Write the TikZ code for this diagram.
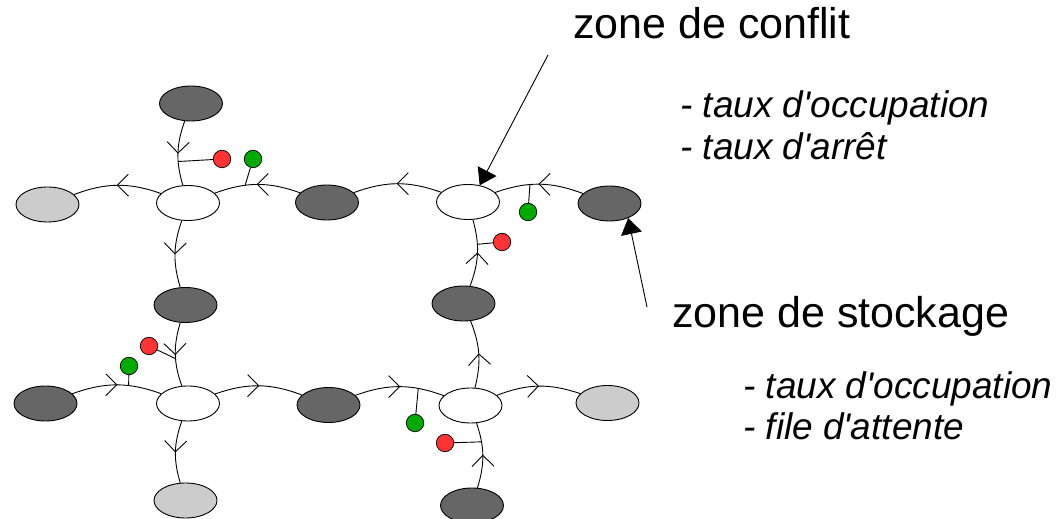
\documentclass[tikz,border=0pt]{standalone}
\usepackage{fontspec}
\newfontfamily\arial{Liberation Sans}
\usepackage{tikz}
\usetikzlibrary{shapes.geometric, arrows.meta, decorations.markings}
\definecolor{darkzone}{HTML}{666666}
\definecolor{lightzone}{HTML}{CCCCCC}
\definecolor{redlight}{HTML}{FF3333}
\definecolor{greenlight}{HTML}{00AA00}
\tikzstyle{conflict} = [ellipse, minimum width=63pt, minimum height=35pt, inner sep=0pt, draw=black, fill=white, line width=0.9pt]
\tikzstyle{stock} = [conflict, fill=darkzone]
\tikzstyle{exitzone} = [conflict, fill=lightzone]
\tikzstyle{feurouge} = [circle, minimum size=17.5pt, inner sep=0pt, draw=black, line width=0.7pt, fill=redlight]
\tikzstyle{feuvert} = [feurouge, fill=greenlight]
\tikzstyle{flow} = [line width=0.9pt, postaction={decorate}, decoration={markings, mark=at position 0.5 with {\draw (-11pt,11pt) -- (0pt,0pt) -- (-11pt,-11pt);}}]
\tikzstyle{stem} = [line width=0.9pt]
\tikzstyle{pointer} = [line width=0.9pt, -{Triangle[length=16pt, width=21pt]}]
\tikzstyle{titre} = [inner sep=0pt, anchor=base west, font=\arial\fontsize{43}{48}\selectfont]
\tikzstyle{liste} = [inner sep=0pt, anchor=base west, font=\arial\itshape\fontsize{37}{42}\selectfont]

\begin{document}
\begin{tikzpicture}[x=1pt, y=1pt]
   \useasboundingbox (0,0) rectangle (1057,519);

   \node (conf1) [conflict] at (188,316) {};
   \node (conf2) [conflict] at (468,317) {};
   \node (conf3) [conflict] at (188,115.5) {};
   \node (conf4) [conflict] at (470.5,113.5) {};

   \node (stockN1) [stock] at (191,415.5) {};
   \node (sortieW1) [exitzone] at (47.5,314.5) {};
   \node (stock12) [stock] at (327,316.5) {};
   \node (stockE2) [stock] at (609.5,315.5) {};
   \node (stock13) [stock] at (185.5,214) {};
   \node (stock24) [stock] at (463.5,215.5) {};
   \node (stockW3) [stock] at (45.5,115.5) {};
   \node (stock34) [stock] at (328.5,114) {};
   \node (sortieE4) [exitzone] at (607.5,116) {};
   \node (sortieS3) [exitzone] at (185.5,18.5) {};
   \node (stockS4) [stock] at (472,13.5) {};

   \draw [flow] (conf1) to[bend right=20] (sortieW1);
   \draw [flow] (stock12) to[bend right=20] coordinate[pos=0.65] (v1) (conf1);
   \draw [flow] (conf2) to[bend right=20] (stock12);
   \draw [flow] (stockE2) to[bend right=20] coordinate[pos=0.61] (v2) (conf2);

   \draw [flow] (stockN1) to[bend right=18] coordinate[pos=0.64] (r1) (conf1);
   \draw [flow] (conf1) to[bend right=18] (stock13);
   \draw [flow] (stock13) to[bend right=18] coordinate[pos=0.57] (r3) (conf3);
   \draw [flow] (conf3) to[bend right=18] (sortieS3);

   \draw [flow] (stock24) to[bend right=18] coordinate[pos=0.64] (r2) (conf2);
   \draw [flow] (conf4) to[bend right=18] (stock24);
   \draw [flow] (stockS4) to[bend right=18] coordinate[pos=0.72] (r4) (conf4);

   \draw [flow] (stockW3) to[bend left=20] coordinate[pos=0.64] (v3) (conf3);
   \draw [flow] (conf3) to[bend left=20] (stock34);
   \draw [flow] (stock34) to[bend left=20] coordinate[pos=0.72] (v4) (conf4);
   \draw [flow] (conf4) to[bend left=20] (sortieE4);

   \node (feuR1) [feurouge] at (222,360) {};
   \node (feuV1) [feuvert] at (253,360) {};
   \node (feuV2) [feuvert] at (528,307) {};
   \node (feuR2) [feurouge] at (502,277) {};
   \node (feuR3) [feurouge] at (149,173) {};
   \node (feuV3) [feuvert] at (129,153) {};
   \node (feuV4) [feuvert] at (415,96) {};
   \node (feuR4) [feurouge] at (445,76) {};

   \draw [stem] (r1) -- (feuR1);
   \draw [stem] (v1) -- (feuV1);
   \draw [stem] (v2) -- (feuV2);
   \draw [stem] (r2) -- (feuR2);
   \draw [stem] (r3) -- (feuR3);
   \draw [stem] (v3) -- (feuV3);
   \draw [stem] (v4) -- (feuV4);
   \draw [stem] (r4) -- (feuR4);

   \node (conflit) [titre] at (573,480) {zone de conflit};
   \node (occ1) [liste] at (680,401) {- taux d'occupation};
   \node (arret) [liste] at (680,359) {- taux d'arrêt};
   \node (stockage) [titre] at (672,191) {zone de stockage};
   \node (occ2) [liste] at (743,120) {- taux d'occupation};
   \node (attente) [liste] at (743,79) {- file d'attente};

   \coordinate (deconflit) at (548,464);
   \coordinate (destockage) at (647,212);
   \draw [pointer] (deconflit) -- (conf2.55);
   \draw [pointer] (destockage) -- (stockE2.-38);
\end{tikzpicture}
\end{document}
